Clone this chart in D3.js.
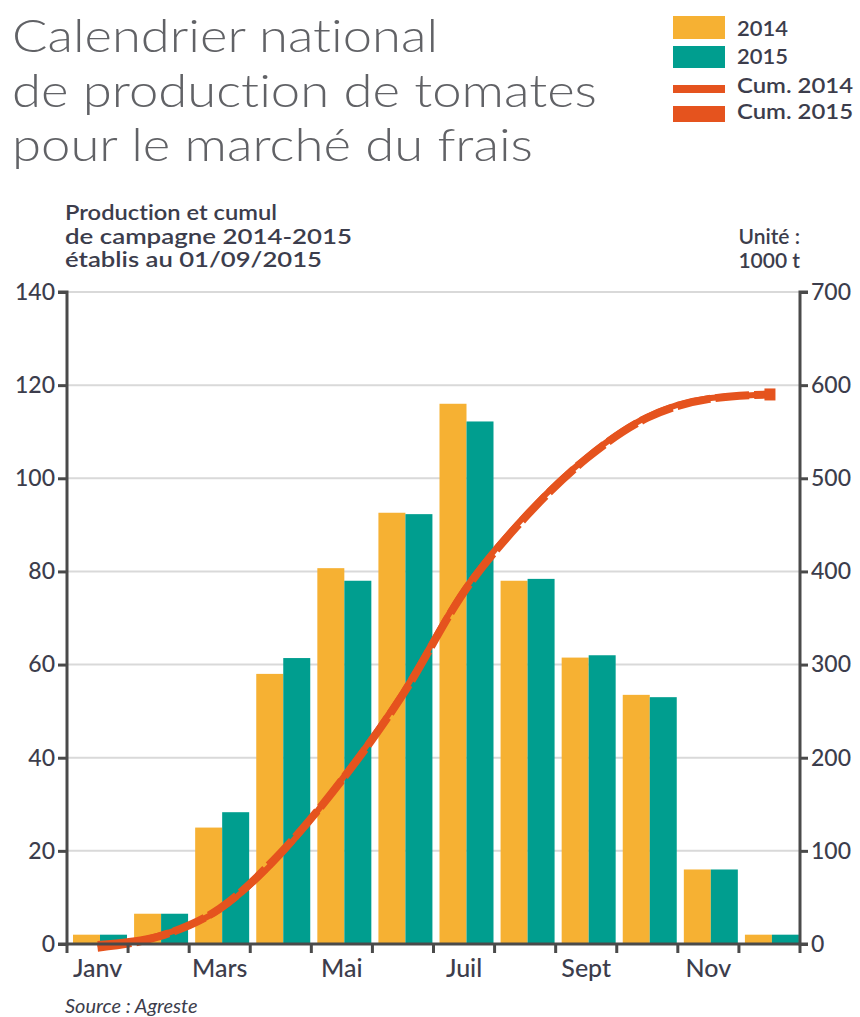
<!DOCTYPE html>
<html lang="fr">
<head>
<meta charset="UTF-8">
<title>Calendrier national de production de tomates</title>
<script src="https://d3js.org/d3.v7.min.js"></script>
<style>
    body { margin: 0; background: #fff; }
    svg { display: block; }
    text { font-family: Lato, "Noto Sans", sans-serif; font-variant-ligatures: none; }
</style>
</head>
<body>
<svg id="chart" width="860" height="1017"></svg>
<script>
    // données (1000 t)
    const mois = ["Janv", "Fev", "Mars", "Avr", "Mai", "Juin", "Juil", "Aout", "Sept", "Oct", "Nov", "Dec"];
    const prod2014 = [2, 6.5, 25, 58, 80.7, 92.6, 116, 78, 61.5, 53.5, 16, 2];
    const prod2015 = [2, 6.5, 28.3, 61.4, 78, 92.3, 112.2, 78.4, 62, 53, 16, 2];
    const cum2014 = [0, 9, 37, 96, 177, 270, 380, 460, 522, 566, 586, 590];
    const cum2015 = [-4, 8, 38, 98, 176, 268, 378, 458, 521, 565, 585, 590];
    const ticksGauche = [0, 20, 40, 60, 80, 100, 120, 140];
    const ticksDroite = [0, 100, 200, 300, 400, 500, 600, 700];
    const moisAffiches = ["Janv", "Mars", "Mai", "Juil", "Sept", "Nov"];

    const jaune = "#F6B133", vert = "#009E8F", rouge = "#E5531E";
    const encre = "#3c3d4c", axe = "#4a4a4a";

    const svg = d3.select("#chart");
    const gauche = 67, droite = 800, haut = 292, bas = 944;

    const x = d3.scaleBand().domain(mois).range([gauche, droite]);
    const xs = d3.scaleBand().domain(["2014", "2015"]).range([6, 60]);
    const y = d3.scaleLinear().domain([0, 140]).range([bas, haut]);
    const y2 = d3.scaleLinear().domain([0, 700]).range([bas, haut]);

    // titre
    const titre = ["Calendrier national", "de production de tomates", "pour le marché du frais"];
    const largeursTitre = [426, 585, 521];
    svg.append("g").attr("fill", "#616266").style("font-weight", 300)
        .selectAll("text").data(titre).enter().append("text")
        .attr("x", 12).attr("y", (d, i) => 52 + i * 54.5)
        .attr("textLength", (d, i) => largeursTitre[i]).attr("lengthAdjust", "spacingAndGlyphs")
        .style("font-size", "45px").text(d => d);

    // sous-titre et unité
    const sous = ["Production et cumul", "de campagne 2014-2015", "établis au 01/09/2015"];
    const largeurs = [212, 287, 257];
    svg.append("g").selectAll("text").data(sous).enter().append("text")
        .attr("x", 65).attr("y", (d, i) => 220 + i * 23.5)
        .attr("textLength", (d, i) => largeurs[i]).attr("lengthAdjust", "spacingAndGlyphs")
        .attr("fill", encre).style("font-size", "21px").style("font-weight", 600)
        .text(d => d);
    svg.append("g").selectAll("text").data(["Unité :", "1000 t"]).enter().append("text")
        .attr("x", 800).attr("y", (d, i) => 244 + i * 23.5).attr("text-anchor", "end")
        .attr("fill", encre).style("font-size", "21px").style("font-weight", 600)
        .text(d => d);

    // légende
    const leg = svg.append("g");
    leg.append("rect").attr("x", 673).attr("y", 16).attr("width", 52).attr("height", 23).attr("fill", jaune);
    leg.append("rect").attr("x", 673).attr("y", 46).attr("width", 52).attr("height", 22).attr("fill", vert);
    leg.append("rect").attr("x", 673).attr("y", 85).attr("width", 52).attr("height", 8).attr("fill", rouge);
    leg.append("rect").attr("x", 673).attr("y", 106).attr("width", 52).attr("height", 16).attr("fill", rouge);
    leg.selectAll("text").data(["2014", "2015", "Cum. 2014", "Cum. 2015"]).enter().append("text")
        .attr("x", 737).attr("y", (d, i) => [36, 64, 93, 119][i])
        .attr("textLength", (d, i) => [51, 51, 116, 116][i]).attr("lengthAdjust", "spacingAndGlyphs")
        .attr("fill", encre).style("font-size", "21px").style("font-weight", 600)
        .text(d => d);

    // grille
    svg.append("g").selectAll("line").data(ticksGauche.slice(1)).enter().append("line")
        .attr("x1", gauche).attr("x2", droite)
        .attr("y1", d => y(d)).attr("y2", d => y(d))
        .attr("stroke", "#d9d9d9").attr("stroke-width", 2);

    // barres
    const groupes = svg.append("g").selectAll("g").data(mois).enter().append("g")
        .attr("transform", d => `translate(${x(d)},0)`);
    groupes.append("rect")
        .attr("x", xs("2014")).attr("width", xs.bandwidth())
        .attr("y", (d, i) => y(prod2014[i])).attr("height", (d, i) => bas - y(prod2014[i]))
        .attr("fill", jaune);
    groupes.append("rect")
        .attr("x", xs("2015")).attr("width", xs.bandwidth())
        .attr("y", (d, i) => y(prod2015[i])).attr("height", (d, i) => bas - y(prod2015[i]))
        .attr("fill", vert);

    // cumuls
    const cx = (d, i) => x(mois[i]) + x.bandwidth() / 2;
    const ligne = d3.line().x(cx).y(d => y2(d)).curve(d3.curveMonotoneX);
    svg.append("path").attr("d", ligne(cum2014))
        .attr("fill", "none").attr("stroke", rouge).attr("stroke-width", 6);
    svg.append("path").attr("d", ligne(cum2015))
        .attr("fill", "none").attr("stroke", rouge).attr("stroke-width", 8)
        .attr("stroke-dasharray", "34,5");
    svg.append("rect")
        .attr("x", cx(0, 11) - 5).attr("y", y2(cum2015[11]) - 6)
        .attr("width", 11).attr("height", 12).attr("fill", rouge);

    // axes
    const axeG = svg.append("g")
        .attr("transform", `translate(${gauche},0)`)
        .call(d3.axisLeft(y).tickValues(ticksGauche).tickSize(9).tickPadding(3));
    const axeD = svg.append("g")
        .attr("transform", `translate(${droite},0)`)
        .call(d3.axisRight(y2).tickValues(ticksDroite).tickSize(8).tickPadding(3));
    const axeB = svg.append("g")
        .attr("transform", `translate(0,${bas})`)
        .call(d3.axisBottom(x).tickSize(0).tickPadding(15));
    axeB.selectAll(".tick").filter(d => !moisAffiches.includes(d)).remove();
    svg.append("g").selectAll("line").data(mois.concat(["fin"])).enter().append("line")
        .attr("x1", (d, i) => gauche + i * x.step()).attr("x2", (d, i) => gauche + i * x.step())
        .attr("y1", bas).attr("y2", bas + 9)
        .attr("stroke", axe).attr("stroke-width", 3);

    [axeG, axeD, axeB].forEach(g => {
        g.select(".domain").attr("stroke", axe).attr("stroke-width", 3);
        g.selectAll(".tick line").attr("stroke", axe).attr("stroke-width", 3);
        g.selectAll(".tick text").attr("fill", encre)
            .style("font-family", "Lato, sans-serif").style("font-size", "23px").style("font-weight", 500);
    });
    axeB.selectAll(".tick text").style("font-size", "25px");
    axeD.select(".domain").attr("d", `M8,${haut}H0V${bas}H8`);
    axeG.select(".domain").attr("d", `M-9,${haut}H0V${bas}H-9`);
    axeB.select(".domain").attr("d", `M${gauche},0H${droite}`);

    // source
    svg.append("text").attr("x", 65).attr("y", 1013)
        .attr("fill", encre).style("font-size", "20px").style("font-style", "italic")
        .text("Source : Agreste");
</script>
</body>
</html>
